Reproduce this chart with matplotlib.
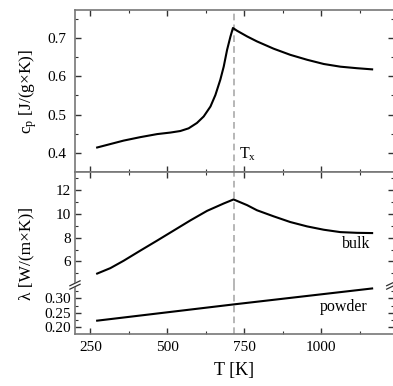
import numpy as np
import matplotlib
matplotlib.use('Agg')
import matplotlib.pyplot as plt
from matplotlib.ticker import MultipleLocator, FormatStrFormatter

plt.rcParams['font.family'] = 'serif'
plt.rcParams['font.serif'] = ['Liberation Serif']
plt.rcParams['mathtext.fontset'] = 'custom'
plt.rcParams['mathtext.rm'] = 'Liberation Serif'
plt.rcParams['mathtext.it'] = 'Liberation Serif:italic'

# data
T_cp = [272, 315, 358, 412, 467, 510, 542, 569, 596, 618, 640, 656, 672, 683,
        694, 705, 713, 726, 759, 791, 845, 899, 954, 1008, 1062, 1116, 1165]
cp = [0.414, 0.423, 0.432, 0.441, 0.449, 0.453, 0.457, 0.464, 0.478, 0.495,
      0.521, 0.551, 0.591, 0.625, 0.669, 0.704, 0.726, 0.719, 0.704, 0.691,
      0.672, 0.656, 0.643, 0.632, 0.625, 0.621, 0.618]

T_bulk = [272, 315, 358, 412, 467, 521, 575, 629, 683, 715, 759, 791, 845,
          899, 954, 1008, 1062, 1116, 1165]
lam_bulk = [4.98, 5.44, 6.06, 6.91, 7.76, 8.61, 9.46, 10.26, 10.88, 11.22,
            10.74, 10.31, 9.80, 9.32, 8.95, 8.67, 8.47, 8.41, 8.39]

T_powder = [272, 715, 1165]
lam_powder = [0.223, 0.279, 0.334]

T_x = 715

spine_col = '#777777'
tick_col = '#333333'
dash_col = '#aaaaaa'

fig = plt.figure(figsize=(3.93, 3.86), dpi=100)
# right spine sits just past the picture edge, as in the original crop
left, width = 0.1908, 0.8117
ax1 = fig.add_axes([left, 0.5544, width, 0.4197])
ax2 = fig.add_axes([left, 0.2617, width, 0.2927])
ax3 = fig.add_axes([left, 0.1347, width, 0.1270])

for ax in (ax1, ax2, ax3):
    ax.set_xlim(200, 1236)
    ax.xaxis.set_major_locator(MultipleLocator(250))
    ax.xaxis.set_minor_locator(MultipleLocator(125))
    for s in ax.spines.values():
        s.set_color(spine_col)
        s.set_linewidth(1.2)
    ax.tick_params(which='both', direction='in', top=True, right=True,
                   color=tick_col, labelsize=11)
    ax.tick_params(which='major', length=4.5, width=1.0)
    ax.tick_params(which='minor', length=2.5, width=0.8)
    ax.axvline(T_x, color=dash_col, ls=(0, (4, 2.5)), lw=1.2, zorder=0)

# top panel: heat capacity
ax1.plot(T_cp, cp, color='black', lw=1.5)
ax1.set_ylim(0.35, 0.773)
ax1.yaxis.set_major_locator(MultipleLocator(0.1))
ax1.yaxis.set_minor_locator(MultipleLocator(0.05))
ax1.tick_params(axis='x', which='both', labelbottom=False)
ax1.tick_params(axis='y', pad=6)
ax1.set_ylabel(r'c$_\mathrm{p}$ [J/(g×K)]', fontsize=12.5, labelpad=6)
ax1.text(T_x + 18, 0.385, r'T$_\mathrm{x}$', fontsize=11.5)

# bulk conductivity
ax2.plot(T_bulk, lam_bulk, color='black', lw=1.5)
ax2.set_ylim(4.02, 13.53)
ax2.yaxis.set_major_locator(MultipleLocator(2))
ax2.yaxis.set_minor_locator(MultipleLocator(1))
ax2.spines['bottom'].set_visible(False)
ax2.tick_params(axis='x', which='both', bottom=False, labelbottom=False)
ax2.tick_params(axis='y', pad=3)
ax2.text(1160, 7.5, 'bulk', fontsize=11.5, ha='right', va='center')

# powder conductivity
ax3.plot(T_powder, lam_powder, color='black', lw=1.5)
ax3.set_ylim(0.177, 0.346)
ax3.yaxis.set_major_locator(MultipleLocator(0.05))
ax3.yaxis.set_minor_locator(MultipleLocator(0.025))
ax3.yaxis.set_major_formatter(FormatStrFormatter('%.2f'))
ax3.spines['top'].set_visible(False)
ax3.tick_params(axis='x', which='both', top=False)
ax3.tick_params(axis='x', pad=5)
ax3.tick_params(axis='y', pad=3)
ax3.text(1150, 0.27, 'powder', fontsize=11.5, ha='right', va='center')
ax3.set_xlabel('T [K]', fontsize=13, labelpad=6)

# axis break marks on the left spine and on the (cropped) right side
dx, dy, gap = 0.016, 0.05, 0.035
for x0 in (0, 0.993):
    ax3.plot([x0 - dx, x0 + dx], [1 - dy, 1 + dy], transform=ax3.transAxes,
             color='white', lw=3, clip_on=False, zorder=5)
    for off in (-gap, gap):
        ax3.plot([x0 - dx, x0 + dx], [1 - dy + off, 1 + dy + off],
                 transform=ax3.transAxes, color=tick_col, lw=0.9,
                 clip_on=False, zorder=6)

fig.text(0.066, (0.1347 + 0.5544) / 2, 'λ [W/(m×K)]', rotation=90,
         fontsize=12.5, ha='center', va='center')

fig.savefig('out.png', dpi=100)
